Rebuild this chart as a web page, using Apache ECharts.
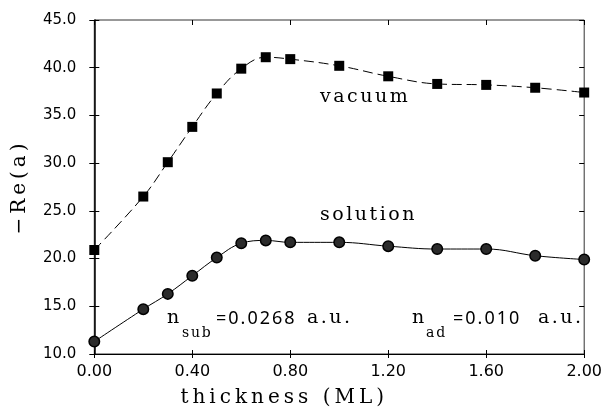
<!DOCTYPE html>
<html>
<head>
<meta charset="utf-8">
<script src="https://cdn.jsdelivr.net/npm/echarts@6/dist/echarts.min.js"></script>
<style>
html,body{margin:0;padding:0;background:#fff;}
#chart{width:605px;height:415px;}
</style>
</head>
<body>
<div id="chart"></div>
<script>
// ---- data ----
var thickness = [0.0, 0.2, 0.3, 0.4, 0.5, 0.6, 0.7, 0.8, 1.0, 1.2, 1.4, 1.6, 1.8, 2.0];
var vacuum    = [20.9, 26.5, 30.1, 33.8, 37.3, 39.9, 41.1, 40.9, 40.2, 39.1, 38.3, 38.2, 37.9, 37.4];
var solution  = [11.3, 14.7, 16.3, 18.2, 20.1, 21.6, 21.9, 21.7, 21.7, 21.3, 21.0, 21.0, 20.3, 19.9];
var xTicks = { min: 0, max: 2, interval: 0.4 };
var yTicks = { min: 10, max: 45, interval: 5 };

// wide tracking for the serif text (the reference uses an extended serif face)
(function () {
  var P = window.CanvasRenderingContext2D && CanvasRenderingContext2D.prototype;
  if (!P || !('letterSpacing' in P)) return;
  function ls(ctx) {
    var f = ctx.font || '';
    var sp = 0;
    if (/DejaVu Serif/.test(f)) {
      var m = /([\d.]+)px/.exec(f);
      var size = m ? parseFloat(m[1]) : 18;
      sp = size >= 20 ? size * 0.2 : size * 0.13;
    } else if (/Noto Sans/.test(f)) {
      sp = 2;
    }
    ctx.letterSpacing = sp.toFixed(1) + 'px';
  }
  var f = P.fillText, m = P.measureText, s = P.strokeText;
  P.fillText = function () { ls(this); return f.apply(this, arguments); };
  P.strokeText = function () { ls(this); return s.apply(this, arguments); };
  P.measureText = function () { ls(this); return m.apply(this, arguments); };
})();

function pairs(xs, ys) { return xs.map(function (x, i) { return [x, ys[i]]; }); }

var SERIF = '"DejaVu Serif", serif';
var SANS = '"DejaVu Sans", sans-serif';
var ANNO = '"Noto Sans", sans-serif';

var chart = echarts.init(document.getElementById('chart'), null, { renderer: 'canvas' });

function xAx(pos, opts) {
  return Object.assign({
    type: 'value', position: pos, min: xTicks.min, max: xTicks.max, interval: xTicks.interval,
    axisLine: { show: false, onZero: false, lineStyle: { color: '#000', width: 1 } },
    axisTick: { show: true, inside: true, length: 5, lineStyle: { color: '#000', width: 1 } },
    axisLabel: { show: false },
    splitLine: { show: false }
  }, opts);
}
function yAx(pos, opts) {
  return Object.assign({
    type: 'value', position: pos, min: yTicks.min, max: yTicks.max, interval: yTicks.interval,
    axisLine: { show: false, onZero: false, lineStyle: { color: '#000', width: 1 } },
    axisTick: { show: true, inside: true, length: 5, lineStyle: { color: '#000', width: 1 } },
    axisLabel: { show: false },
    splitLine: { show: false }
  }, opts);
}

chart.setOption({
  animation: false,
  backgroundColor: '#fff',
  grid: { left: 92, right: 19, top: 20, bottom: 58, show: true, borderColor: '#333', borderWidth: 1, backgroundColor: 'transparent' },
  xAxis: [
    xAx('bottom', {
      axisLine: { show: true, onZero: false, lineStyle: { color: '#000', width: 1.2 } },
      axisTick: { show: true, inside: false, length: 4, lineStyle: { color: '#000', width: 1 } },
      axisLabel: { show: true, formatter: function (v) { return v.toFixed(2); }, fontFamily: SANS, fontSize: 16, color: '#000', margin: 10 },
      name: 'thickness (ML)', nameLocation: 'middle', nameGap: 32,
      nameTextStyle: { fontFamily: SERIF, fontSize: 20, color: '#000', padding: [0, 110, 0, 0] }
    }),
    xAx('bottom', { axisTick: { show: true, inside: true, length: 4, lineStyle: { color: '#000', width: 1 } } }),
    xAx('top', {})
  ],
  yAxis: [
    yAx('left', {
      axisLine: { show: true, onZero: false, lineStyle: { color: '#000', width: 1.5 } },
      axisTick: { show: true, inside: false, length: 5, lineStyle: { color: '#000', width: 1 } },
      axisLabel: { show: true, formatter: function (v) { return v.toFixed(1); }, fontFamily: SANS, fontSize: 15, color: '#000', margin: 18 },
      name: '\u2212Re(a)', nameLocation: 'middle', nameGap: 60, nameRotate: 90,
      nameTextStyle: { fontFamily: SERIF, fontSize: 20, color: '#000' }
    }),
    yAx('left', { axisTick: { show: true, inside: true, length: 5, lineStyle: { color: '#000', width: 1 } } }),
    yAx('right', {})
  ],
  series: [
    {
      name: 'vacuum', type: 'line', xAxisIndex: 0, yAxisIndex: 0,
      data: pairs(thickness, vacuum), smooth: 0.4,
      symbol: 'rect', symbolSize: 10,
      itemStyle: { color: '#000' },
      lineStyle: { color: '#000', width: 1, type: [10, 5] }
    },
    {
      name: 'solution', type: 'line', xAxisIndex: 0, yAxisIndex: 0,
      data: pairs(thickness, solution), smooth: 0.4,
      symbol: 'circle', symbolSize: 10.5,
      itemStyle: { color: '#2b2b2b', borderColor: '#000', borderWidth: 1.5 },
      lineStyle: { color: '#000', width: 1 }
    }
  ],
  graphic: [
    { type: 'text', left: 320, top: 86, style: { text: 'vacuum', font: '19px ' + SERIF, fill: '#000' } },
    { type: 'text', left: 320, top: 204, style: { text: 'solution', font: '19px ' + SERIF, fill: '#000' } },
    { type: 'text', left: 167, top: 307, style: { text: 'n', font: '19px ' + SERIF, fill: '#000' } },
    { type: 'text', left: 182, top: 325, style: { text: 'sub', font: '14px ' + SERIF, fill: '#000' } },
    { type: 'text', left: 216, top: 309, style: { text: '=0.0268', font: '18px ' + ANNO, fill: '#000' } },
    { type: 'text', left: 307, top: 307, style: { text: 'a.u.', font: '19px ' + SERIF, fill: '#000' } },
    { type: 'text', left: 412, top: 307, style: { text: 'n', font: '19px ' + SERIF, fill: '#000' } },
    { type: 'text', left: 426, top: 325, style: { text: 'ad', font: '14px ' + SERIF, fill: '#000' } },
    { type: 'text', left: 453, top: 309, style: { text: '=0.010', font: '18px ' + ANNO, fill: '#000' } },
    { type: 'text', left: 538, top: 307, style: { text: 'a.u.', font: '19px ' + SERIF, fill: '#000' } }
  ]
});
</script>
</body>
</html>
